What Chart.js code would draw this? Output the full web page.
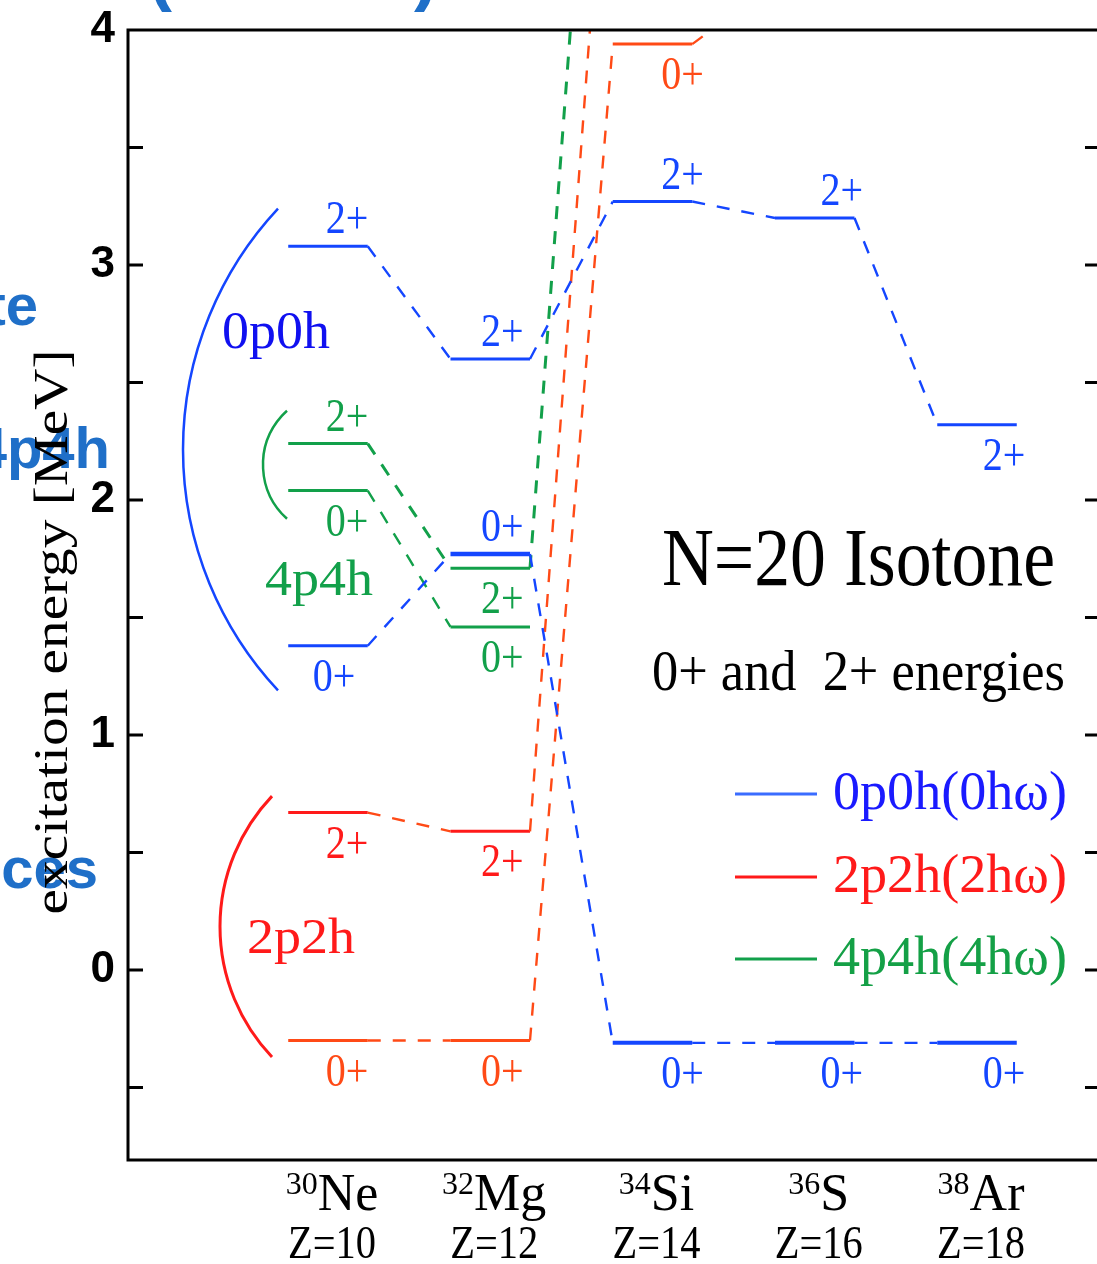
<!DOCTYPE html>
<html><head><meta charset="utf-8">
<script src="https://cdn.jsdelivr.net/npm/chart.js@4.4.1/dist/chart.umd.min.js"></script>
<style>html,body{margin:0;padding:0;background:#fff;overflow:hidden}#wrap{width:1097px;height:1264px;position:relative}canvas{display:block}</style>
</head><body><div id="wrap"><canvas id="c" width="1097" height="1264"></canvas></div>
<script>
// ---------- data ----------
const isotopes = ['Ne', 'Mg', 'Si', 'S', 'Ar'];
const massNumbers = ['30', '32', '34', '36', '38'];
const protonNumbers = [10, 12, 14, 16, 18];
const yTickValues = [-0.5, 0, 0.5, 1, 1.5, 2, 2.5, 3, 3.5, 4];
const yTickLabels = ['', '0', '', '1', '', '2', '', '3', '', '4'];
// excitation energies [MeV] per isotone (values above 4 MeV leave the frame)
const e0p0h_2 = [3.08, 2.60, 3.27, 3.20, 2.32];
const e0p0h_0 = [1.38, 1.77, -0.31, -0.31, -0.31];
const e2p2h_2 = [0.67, 0.59, 5.30];
const e2p2h_0 = [-0.30, -0.30, 3.94, 4.20];
const e4p4h_2 = [2.24, 1.71, 6.40];
const e4p4h_0 = [2.04, 1.46];
const seriesNames = ['0p0h(0hω)', '2p2h(2hω)', '4p4h(4hω)'];
const groupNames = ['0p0h', '4p4h', '2p2h'];
const bracket0p0h = [1.19, 3.24];
const bracket4p4h = [1.92, 2.38];
const bracket2p2h = [-0.37, 0.74];
const titleText = 'N=20 Isotone';
const subtitleText = '0+ and  2+ energies';
const yTitle = 'excitation energy [MeV]';

// ---------- styles ----------
const HW = 0.49;                  // half width of a level bar (Z units)
const SER = 'Liberation Serif';
const SQ = 0.87;
const BLUE = '#1446ff', RED = '#ff1a1a', ORANGE = '#ff4a16', GREEN = '#12a04a';
const specs = [
  {vals: e0p0h_2, spin: '2+', level: BLUE, conn: BLUE, lbl: BLUE, pos: ['a','a','a','a','b'], cw: 2.4, lw: [3,3,3,3,3]},
  {vals: e0p0h_0, spin: '0+', level: BLUE, conn: BLUE, lbl: BLUE, pos: ['b','a','b','b','b'], dx0: 6, cw: 2.4, lw: [3,4.5,4,4,4]},
  {vals: e2p2h_2, spin: '2+', level: RED, conn: ORANGE, lbl: RED, pos: ['b','b','b'], cw: 2.4, lw: [3,3,3]},
  {vals: e2p2h_0, spin: '0+', level: ORANGE, conn: ORANGE, lbl: ORANGE, pos: ['b','b','b','b'], cw: 2.4, lw: [3,3,3,3]},
  {vals: e4p4h_2, spin: '2+', level: GREEN, conn: GREEN, lbl: GREEN, pos: ['a','b','b'], cw: 3, lw: [3,3,3]},
  {vals: e4p4h_0, spin: '0+', level: GREEN, conn: GREEN, lbl: GREEN, pos: ['b','b','b'], cw: 2.4, lw: [3,3]}
];
const labelDx = [19, 12, 30, 27, 27];

function levelPoints(vals) {
  const pts = [];
  vals.forEach((e, i) => {
    pts.push({x: protonNumbers[i] - HW, y: e});
    pts.push({x: protonNumbers[i] + HW, y: e});
  });
  return pts;
}

const datasets = specs.map(s => ({
  data: levelPoints(s.vals),
  showLine: true,
  pointRadius: 0,
  borderColor: s.level,
  borderWidth: 3,
  fill: false,
  tension: 0,
  segment: {
    borderDash: c => (c.p0DataIndex % 2 ? [13, 12] : []),
    borderColor: c => (c.p0DataIndex % 2 ? s.conn : s.level),
    borderWidth: c => (c.p0DataIndex % 2 ? s.cw : s.lw[c.p0DataIndex / 2])
  }
}));

function drawText(ctx, text, x, y, font, color, opts) {
  opts = opts || {};
  ctx.save();
  ctx.font = font;
  ctx.fillStyle = color;
  const w = ctx.measureText(text).width;
  const sx = opts.width ? opts.width / w : (opts.sq || 1);
  ctx.translate(x, y);
  if (opts.rot) ctx.rotate(opts.rot);
  ctx.scale(sx, 1);
  ctx.textAlign = opts.align || 'left';
  ctx.textBaseline = opts.baseline || 'alphabetic';
  ctx.fillText(text, 0, 0);
  ctx.restore();
}

function drawBracket(ctx, xs, ys, range, zEnd, zBulge, color, lw) {
  const xe = xs.getPixelForValue(zEnd), xb = xs.getPixelForValue(zBulge);
  const y1 = ys.getPixelForValue(range[1]), y2 = ys.getPixelForValue(range[0]);
  const h = (y2 - y1) / 2, s = xe - xb;
  const r = (h * h + s * s) / (2 * s);
  const cx = xb + r, cy = (y1 + y2) / 2;
  const a = Math.asin(h / r);
  ctx.save();
  ctx.strokeStyle = color; ctx.lineWidth = lw;
  ctx.beginPath();
  ctx.arc(cx, cy, r, Math.PI - a, Math.PI + a);
  ctx.stroke();
  ctx.restore();
}

const decor = {
  id: 'decor',
  beforeDraw(chart) {
    const ctx = chart.ctx;
    // fragments of surrounding slide
    const frag = 'bold 58px "Liberation Sans"', fc = '#1f6fc8';
    drawText(ctx, 'te', 38, 325, frag, fc, {align: 'right'});
    drawText(ctx, '4p4h', 110, 468, frag, fc, {align: 'right'});
    drawText(ctx, 'ces', 98, 888, frag, fc, {align: 'right'});
    drawText(ctx, '(', 148, -3, 'bold 72px "Liberation Sans"', fc, {});
    drawText(ctx, ')', 414, -3, 'bold 72px "Liberation Sans"', fc, {});
  },
  afterDatasetsDraw(chart) {
    const {ctx, chartArea: a, scales: {x: xs, y: ys}} = chart;
    // frame and inward ticks
    ctx.save();
    ctx.strokeStyle = '#000'; ctx.lineWidth = 3;
    ctx.beginPath();
    ctx.moveTo(a.left - 1.5, a.top); ctx.lineTo(a.right, a.top);
    ctx.moveTo(a.left - 1.5, a.bottom); ctx.lineTo(a.right, a.bottom);
    ctx.moveTo(a.left, a.top); ctx.lineTo(a.left, a.bottom);
    yTickValues.forEach(v => {
      const y = ys.getPixelForValue(v);
      ctx.moveTo(a.left, y); ctx.lineTo(a.left + 15, y);
      ctx.moveTo(a.right - 12, y); ctx.lineTo(a.right, y);
    });
    ctx.stroke();
    ctx.restore();

    // level labels
    specs.forEach(s => {
      s.vals.forEach((v, i) => {
        if (v > 4 || v < ys.min) return;
        const dx = (i === 0 && s.dx0 !== undefined) ? s.dx0 : labelDx[i];
        const x = xs.getPixelForValue(protonNumbers[i]) + dx;
        const y = ys.getPixelForValue(v) + (s.pos[i] === 'a' ? -13 : 45);
        drawText(ctx, s.spin, x, y, '46px "' + SER + '"', s.lbl, {align: 'center', sq: SQ});
      });
    });

    // brackets
    drawBracket(ctx, xs, ys, bracket0p0h, 9.384, 8.213, BLUE, 2.5);
    drawBracket(ctx, xs, ys, bracket4p4h, 9.495, 9.199, GREEN, 2.5);
    drawBracket(ctx, xs, ys, bracket2p2h, 9.31, 8.669, RED, 3);

    // group labels
    drawText(ctx, groupNames[0], xs.getPixelForValue(8.693), ys.getPixelForValue(2.647), '52px "' + SER + '"', '#1010f0', {width: 108});
    drawText(ctx, groupNames[1], xs.getPixelForValue(9.223), ys.getPixelForValue(1.596), '50px "' + SER + '"', GREEN, {width: 108});
    drawText(ctx, groupNames[2], xs.getPixelForValue(9.002), ys.getPixelForValue(0.072), '50px "' + SER + '"', RED, {width: 108});

    // title
    drawText(ctx, titleText, 662, 585, '82px "' + SER + '"', '#000', {width: 393});
    drawText(ctx, subtitleText, 652, 690, '56px "' + SER + '"', '#000', {width: 413});

    // legend
    const lg = [['#3a6cff', '#1a1aff'], [RED, RED], [GREEN, '#14a046']];
    const lgY = [794, 877, 959];
    seriesNames.forEach((n, k) => {
      ctx.save();
      ctx.strokeStyle = lg[k][0]; ctx.lineWidth = 3;
      ctx.beginPath(); ctx.moveTo(735, lgY[k]); ctx.lineTo(817, lgY[k]); ctx.stroke();
      ctx.restore();
      drawText(ctx, n, 833, lgY[k] + 15, '54px "' + SER + '"', lg[k][1], {width: 234});
    });

    // x category labels
    isotopes.forEach((el, i) => {
      const cx = xs.getPixelForValue(protonNumbers[i]) + 4;
      ctx.save();
      ctx.fillStyle = '#000';
      ctx.font = '32px "' + SER + '"';
      const ws = ctx.measureText(massNumbers[i]).width;
      ctx.font = '52px "' + SER + '"';
      const we = ctx.measureText(el).width;
      const x0 = cx - (ws + we) / 2;
      ctx.font = '32px "' + SER + '"';
      ctx.fillText(massNumbers[i], x0, 1194);
      ctx.font = '52px "' + SER + '"';
      ctx.fillText(el, x0 + ws, 1210);
      ctx.restore();
      drawText(ctx, 'Z=' + protonNumbers[i], cx, 1258, '46px "' + SER + '"', '#000', {align: 'center', width: 88});
    });

    // y axis title
    drawText(ctx, yTitle, 67, 632, '48px "' + SER + '"', '#000', {align: 'center', rot: -Math.PI / 2, width: 565});
  }
};

new Chart(document.getElementById('c').getContext('2d'), {
  type: 'scatter',
  data: {datasets},
  options: {
    responsive: false,
    animation: false,
    devicePixelRatio: 1,
    events: [],
    layout: {padding: {top: 30, right: 0, bottom: 104, left: 0}},
    plugins: {legend: {display: false}, tooltip: {enabled: false}},
    scales: {
      x: {type: 'linear', min: 7.535, max: 19.479, display: false},
      y: {
        type: 'linear', min: -0.8085, max: 4,
        afterFit(s) { s.width = 128; s.paddingTop = 0; s.paddingBottom = 0; },
        afterBuildTicks(s) { s.ticks = yTickValues.map(v => ({value: v})); },
        grid: {display: false, drawTicks: false, drawOnChartArea: false},
        border: {display: false},
        ticks: {
          padding: 13, color: '#000', autoSkip: false,
          font: {family: 'Liberation Sans', size: 44, weight: 'bold'},
          callback: (v) => yTickLabels[yTickValues.indexOf(v)]
        }
      }
    }
  },
  plugins: [decor]
});
</script></body></html>
